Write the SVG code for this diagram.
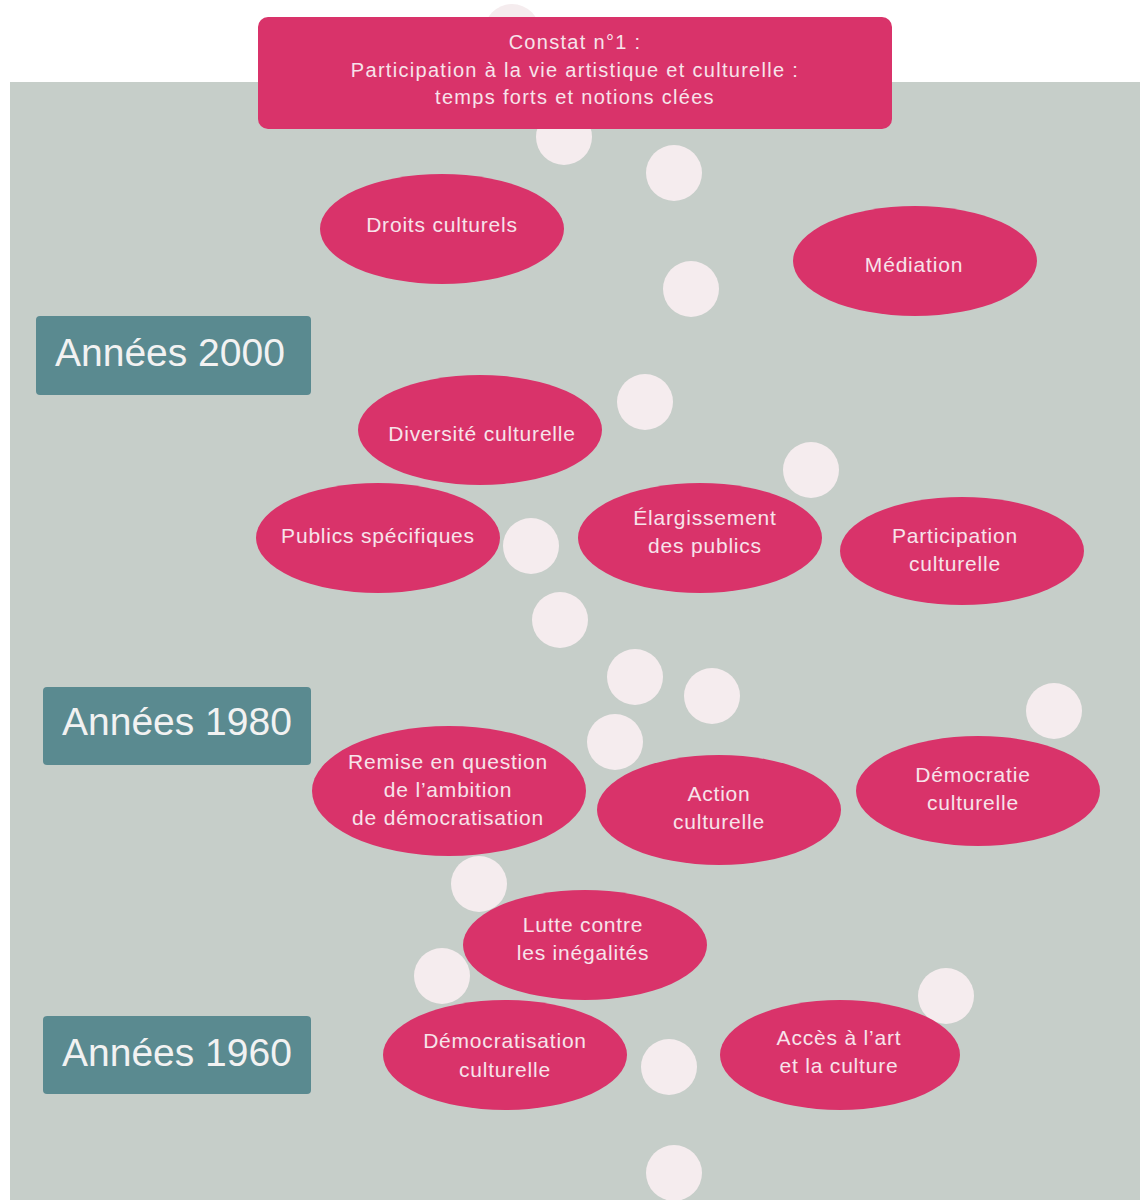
<svg xmlns="http://www.w3.org/2000/svg" width="1140" height="1200" viewBox="0 0 1140 1200">
<style>
.bg{fill:#c6cec9}
.dot{fill:#f5ecee}
.node{fill:#d9336a}
.era{fill:#5a8a90}
.t{font-family:"Liberation Sans","DejaVu Sans",sans-serif;font-size:21px;fill:#f7e3ea;text-anchor:middle;letter-spacing:0.8px}
.tt{font-family:"Liberation Sans","DejaVu Sans",sans-serif;font-size:20px;fill:#f7e3ea;text-anchor:middle;letter-spacing:1.3px}
.e{font-family:"Liberation Sans","DejaVu Sans",sans-serif;font-size:39px;fill:#f2f2f2}
</style>
<rect x="0" y="0" width="1140" height="1200" fill="#ffffff"/>
<rect class="bg" x="10" y="82" width="1130" height="1118"/>
<g id="dots">
<circle class="dot" cx="512" cy="32" r="28"/>
<circle class="dot" cx="564" cy="137" r="28"/>
<circle class="dot" cx="674" cy="173" r="28"/>
<circle class="dot" cx="691" cy="289" r="28"/>
<circle class="dot" cx="645" cy="402" r="28"/>
<circle class="dot" cx="811" cy="470" r="28"/>
<circle class="dot" cx="531" cy="546" r="28"/>
<circle class="dot" cx="560" cy="620" r="28"/>
<circle class="dot" cx="635" cy="677" r="28"/>
<circle class="dot" cx="712" cy="696" r="28"/>
<circle class="dot" cx="1054" cy="711" r="28"/>
<circle class="dot" cx="615" cy="742" r="28"/>
<circle class="dot" cx="479" cy="884" r="28"/>
<circle class="dot" cx="442" cy="976" r="28"/>
<circle class="dot" cx="946" cy="996" r="28"/>
<circle class="dot" cx="669" cy="1067" r="28"/>
<circle class="dot" cx="674" cy="1173" r="28"/>
</g>
<g id="connectors"></g>
<g id="title">
<rect class="node" x="258" y="17" width="634" height="112" rx="10"/>
<text class="tt" x="575" y="49">Constat n°1 :</text>
<text class="tt" x="575" y="77">Participation à la vie artistique et culturelle :</text>
<text class="tt" x="575" y="104">temps forts et notions clées</text>
</g>
<g id="era2000">
<rect class="era" x="36" y="316" width="275" height="79" rx="4"/>
<text class="e" x="55" y="366">Années 2000</text>
</g>
<g id="era1980">
<rect class="era" x="43" y="687" width="268" height="78" rx="4"/>
<text class="e" x="62" y="735">Années 1980</text>
</g>
<g id="era1960">
<rect class="era" x="43" y="1016" width="268" height="78" rx="4"/>
<text class="e" x="62" y="1066">Années 1960</text>
</g>
<g id="droits">
<ellipse class="node" cx="442" cy="229" rx="122" ry="55"/>
<text class="t" x="442" y="232">Droits culturels</text>
</g>
<g id="mediation">
<ellipse class="node" cx="915" cy="261" rx="122" ry="55"/>
<text class="t" x="914" y="272">Médiation</text>
</g>
<g id="diversite">
<ellipse class="node" cx="480" cy="430" rx="122" ry="55"/>
<text class="t" x="482" y="441">Diversité culturelle</text>
</g>
<g id="publics">
<ellipse class="node" cx="378" cy="538" rx="122" ry="55"/>
<text class="t" x="378" y="543">Publics spécifiques</text>
</g>
<g id="elargissement">
<ellipse class="node" cx="700" cy="538" rx="122" ry="55"/>
<text class="t" x="705" y="525">Élargissement</text>
<text class="t" x="705" y="553">des publics</text>
</g>
<g id="participation">
<ellipse class="node" cx="962" cy="551" rx="122" ry="54"/>
<text class="t" x="955" y="543">Participation</text>
<text class="t" x="955" y="571">culturelle</text>
</g>
<g id="remise">
<ellipse class="node" cx="449" cy="791" rx="137" ry="65"/>
<text class="t" x="448" y="769">Remise en question</text>
<text class="t" x="448" y="797">de l’ambition</text>
<text class="t" x="448" y="825">de démocratisation</text>
</g>
<g id="action">
<ellipse class="node" cx="719" cy="810" rx="122" ry="55"/>
<text class="t" x="719" y="801">Action</text>
<text class="t" x="719" y="829">culturelle</text>
</g>
<g id="democratie">
<ellipse class="node" cx="978" cy="791" rx="122" ry="55"/>
<text class="t" x="973" y="782">Démocratie</text>
<text class="t" x="973" y="810">culturelle</text>
</g>
<g id="lutte">
<ellipse class="node" cx="585" cy="945" rx="122" ry="55"/>
<text class="t" x="583" y="932">Lutte contre</text>
<text class="t" x="583" y="960">les inégalités</text>
</g>
<g id="democratisation">
<ellipse class="node" cx="505" cy="1055" rx="122" ry="55"/>
<text class="t" x="505" y="1048">Démocratisation</text>
<text class="t" x="505" y="1077">culturelle</text>
</g>
<g id="acces">
<ellipse class="node" cx="840" cy="1055" rx="120" ry="55"/>
<text class="t" x="839" y="1045">Accès à l’art</text>
<text class="t" x="839" y="1073">et la culture</text>
</g>
</svg>
